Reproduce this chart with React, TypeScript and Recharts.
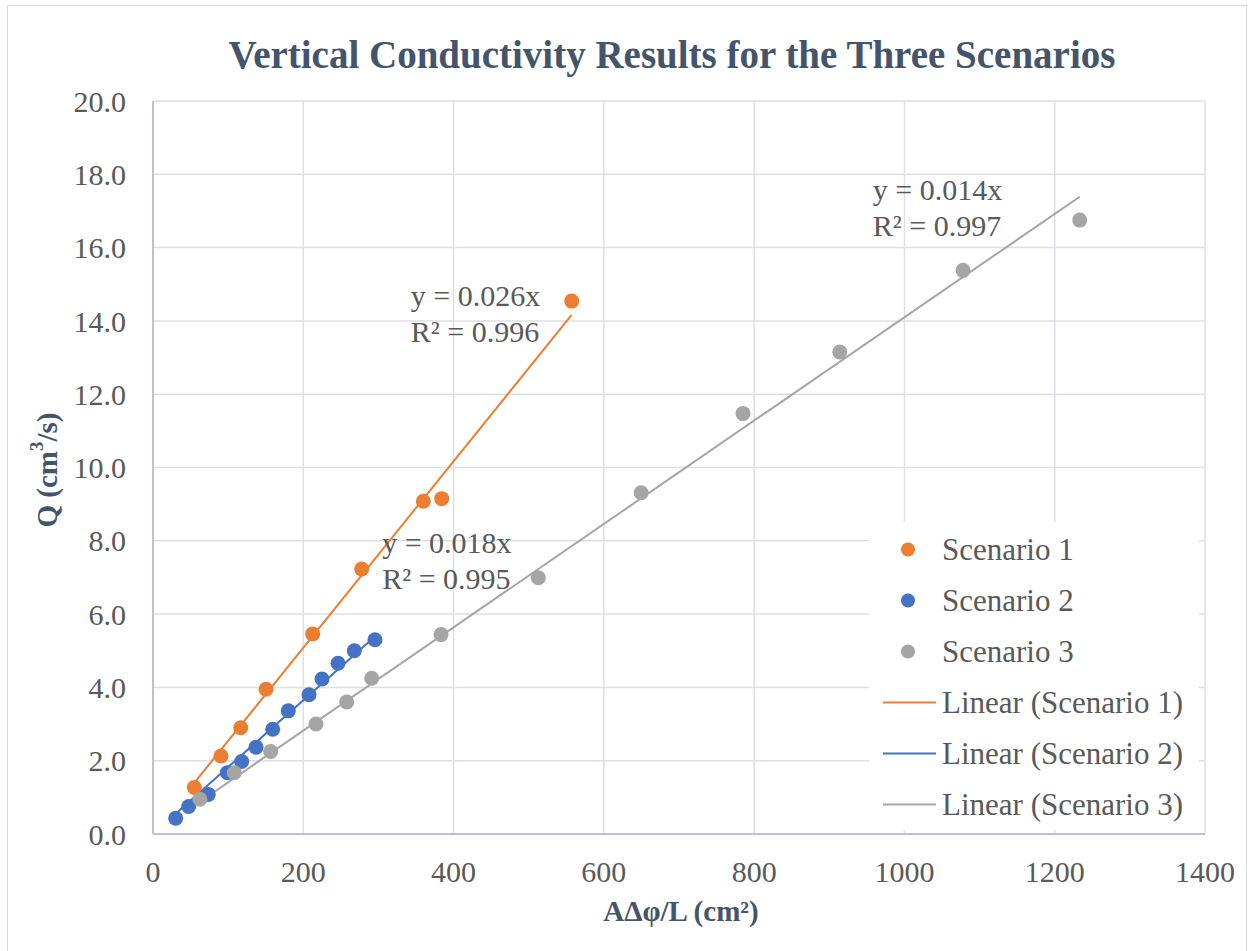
import React from "react";
import {
  CartesianGrid,
  ComposedChart,
  Label,
  Legend,
  Line,
  ReferenceDot,
  Scatter,
  XAxis,
  YAxis,
} from "recharts";

// Excel-like look: Times-ish serif, slate title, grey ticks
const FONT = '"Liberation Serif", "Times New Roman", Times, serif';
const TEXT = "#595959";
const TITLE = "#44546A";
const GRID = "#DCDFE5";
const AXIS = "#BCC3CF";

// values (x = AΔφ/L in cm², y = Q in cm³/s)
const S1_X = [55, 90.5, 116.7, 150.4, 212.5, 277.7, 359.7, 384.2, 557.2];
const S1_Y = [1.27, 2.13, 2.9, 3.95, 5.46, 7.23, 9.08, 9.15, 14.54];

const S2_X = [30.2, 47.5, 73.6, 98.9, 118, 137.1, 159.3, 180.1, 207.6, 224.9, 246.2, 267.9, 295.4];
const S2_Y = [0.43, 0.75, 1.08, 1.67, 1.98, 2.37, 2.86, 3.36, 3.8, 4.23, 4.66, 5.0, 5.3];

const S3_X = [62.5, 108.2, 156.6, 216.9, 257.8, 291, 383.3, 512.8, 649.6, 785.2, 913.9, 1078, 1233.3];
const S3_Y = [0.95, 1.67, 2.25, 3.0, 3.6, 4.25, 5.44, 6.99, 9.31, 11.47, 13.15, 15.38, 16.75];

const SERIES_NAMES = ["Scenario 1", "Scenario 2", "Scenario 3"];
const SERIES_COLORS = ["#ED7D31", "#4472C4", "#A5A5A5"];

const EQUATION_TEXT = ["y = 0.026x", "y = 0.018x", "y = 0.014x"];
const R2_TEXT = ["R² = 0.996", "R² = 0.995", "R² = 0.997"];

const X_TICKS = [0, 200, 400, 600, 800, 1000, 1200, 1400];
const Y_TICKS = [0, 2, 4, 6, 8, 10, 12, 14, 16, 18, 20];

// where each equation label sits (data units, left end of first line's baseline)
const EQ_ANCHORS = [
  { x: 343, y: 14.4 },
  { x: 305, y: 7.68 },
  { x: 958, y: 17.3 },
];

type Pt = { x: number; y: number };

const toPoints = (xs: number[], ys: number[]): Pt[] => xs.map((x, i) => ({ x, y: ys[i] }));

// linear trendline forced through the origin, drawn from min x to max x like Excel
function trendline(pts: Pt[]): Pt[] {
  const sxy = pts.reduce((s, p) => s + p.x * p.y, 0);
  const sxx = pts.reduce((s, p) => s + p.x * p.x, 0);
  const k = sxy / sxx;
  const xs = pts.map((p) => p.x);
  const lo = Math.min(...xs);
  const hi = Math.max(...xs);
  return [
    { x: lo, y: k * lo },
    { x: hi, y: k * hi },
  ];
}

const SERIES = [toPoints(S1_X, S1_Y), toPoints(S2_X, S2_Y), toPoints(S3_X, S3_Y)];
const TRENDS = SERIES.map(trendline);

function LegendBox() {
  const rows = [
    ...SERIES_NAMES.map((name, i) => ({ label: name, color: SERIES_COLORS[i], kind: "dot" })),
    ...SERIES_NAMES.map((name, i) => ({ label: `Linear (${name})`, color: SERIES_COLORS[i], kind: "line" })),
  ];
  return (
    <div style={{ background: "#fff", paddingTop: 2, fontFamily: FONT }}>
      {rows.map((r) => (
        <div key={r.label} style={{ display: "flex", alignItems: "center", height: 51 }}>
          <svg width={73} height={51}>
            {r.kind === "dot" ? (
              <circle cx={39} cy={25.5} r={7} fill={r.color} />
            ) : (
              <line x1={14} x2={67} y1={25.5} y2={25.5} stroke={r.color} strokeWidth={2} />
            )}
          </svg>
          <span style={{ fontSize: 31, color: TEXT, lineHeight: "51px", whiteSpace: "nowrap" }}>{r.label}</span>
        </div>
      ))}
    </div>
  );
}

export default function App() {
  return (
    <div
      style={{
        position: "absolute",
        left: 0,
        top: 0,
        width: 1250,
        height: 951,
        background: "#fff",
        overflow: "hidden",
        fontFamily: FONT,
      }}
    >
      <div
        style={{
          position: "absolute",
          left: 7,
          top: 5,
          width: 1240,
          height: 960,
          border: "1.5px solid #D9D9D9",
          boxSizing: "border-box",
        }}
      />
      <div
        style={{
          position: "absolute",
          left: 0,
          top: 36,
          width: 1344,
          textAlign: "center",
          fontSize: 39,
          lineHeight: "38px",
          fontWeight: "bold",
          color: TITLE,
          whiteSpace: "nowrap",
        }}
      >
        Vertical Conductivity Results for the Three Scenarios
      </div>

      <ComposedChart width={1250} height={951} margin={{ top: 101, right: 45, bottom: 0, left: 0 }}>
        <CartesianGrid stroke={GRID} strokeWidth={1.5} />
        <XAxis
          type="number"
          dataKey="x"
          domain={[0, 1400]}
          ticks={X_TICKS}
          height={117}
          axisLine={{ stroke: AXIS, strokeWidth: 2 }}
          tickLine={false}
          tickMargin={21}
          tick={{ fontSize: 30, fill: TEXT, fontFamily: FONT }}
          allowDataOverflow
        >
          <Label
            content={() => (
              <text x={681} y={921} textAnchor="middle" fontSize={29} fontWeight="bold" fill={TITLE} fontFamily={FONT}>
                AΔφ/L (cm²)
              </text>
            )}
          />
        </XAxis>
        <YAxis
          type="number"
          dataKey="y"
          domain={[0, 20]}
          ticks={Y_TICKS}
          width={153}
          axisLine={{ stroke: AXIS, strokeWidth: 2 }}
          tickLine={false}
          tickMargin={21}
          tickFormatter={(v: number) => v.toFixed(1)}
          tick={{ fontSize: 30, fill: TEXT, fontFamily: FONT }}
          allowDataOverflow
        >
          <Label
            content={() => (
              <text
                x={47}
                y={470}
                transform="rotate(-90 47 470)"
                textAnchor="middle"
                dominantBaseline="central"
                fontSize={29}
                fontWeight="bold"
                fill={TITLE}
                fontFamily={FONT}
              >
                Q (cm
                <tspan dy={-11} fontSize={19}>
                  3
                </tspan>
                <tspan dy={11}>/s)</tspan>
              </text>
            )}
          />
        </YAxis>

        {TRENDS.map((t, i) => (
          <Line
            key={`trend-${i}`}
            data={t}
            dataKey="y"
            stroke={SERIES_COLORS[i]}
            strokeWidth={2}
            dot={false}
            activeDot={false}
            legendType="none"
            isAnimationActive={false}
          />
        ))}
        {SERIES.map((pts, i) => (
          <Scatter
            key={SERIES_NAMES[i]}
            name={SERIES_NAMES[i]}
            data={pts}
            fill={SERIES_COLORS[i]}
            isAnimationActive={false}
            shape={(p: any) => <circle cx={p.cx} cy={p.cy} r={7.5} fill={SERIES_COLORS[i]} />}
          />
        ))}

        {EQ_ANCHORS.map((a, i) => (
          <ReferenceDot
            key={`eq-${i}`}
            x={a.x}
            y={a.y}
            r={0}
            shape={(p: any) => (
              <text x={p.cx} y={p.cy} fontSize={30} fill={TEXT} fontFamily={FONT}>
                <tspan x={p.cx}>{EQUATION_TEXT[i]}</tspan>
                <tspan x={p.cx} dy={36}>
                  {R2_TEXT[i]}
                </tspan>
              </text>
            )}
          />
        ))}

        <Legend
          layout="vertical"
          align="center"
          verticalAlign="middle"
          wrapperStyle={{ left: 869, top: 522, width: 330, height: 310 }}
          content={() => <LegendBox />}
        />
      </ComposedChart>
    </div>
  );
}
